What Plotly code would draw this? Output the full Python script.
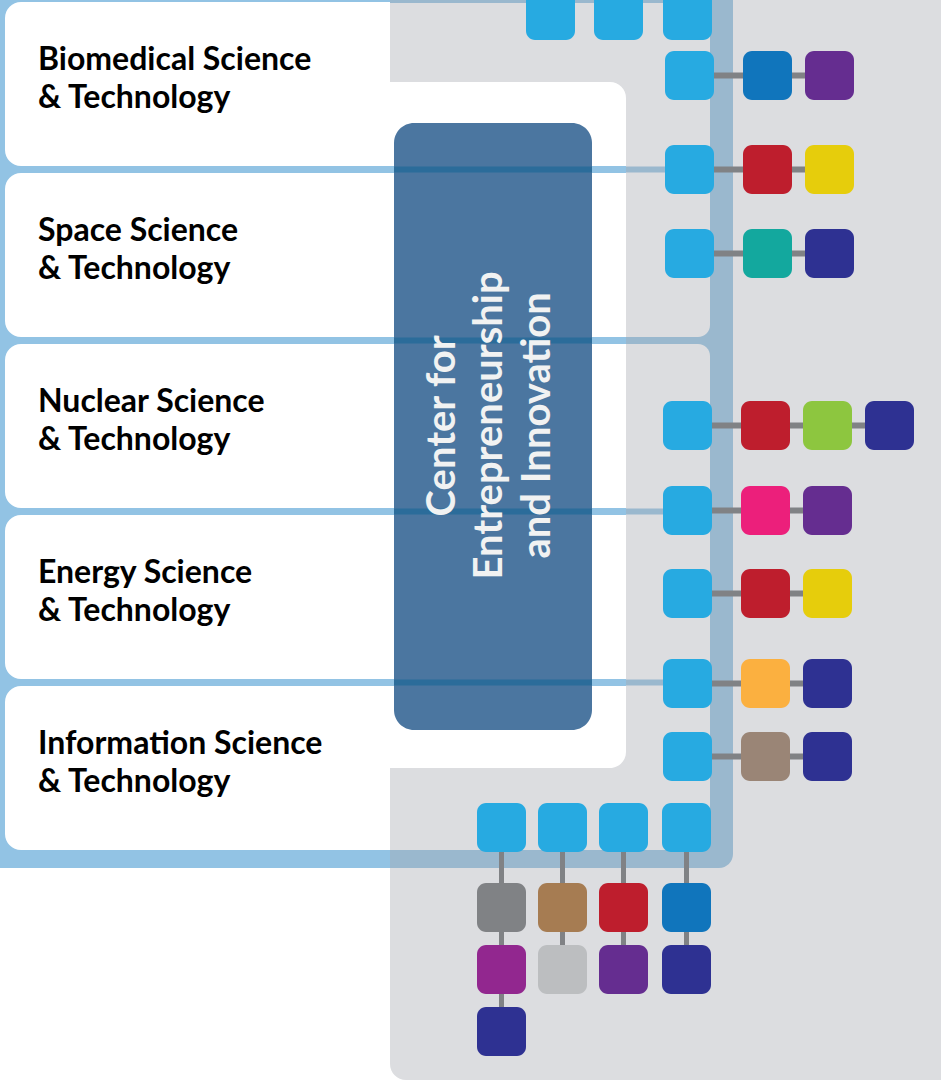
import plotly.graph_objects as go

# ---------------- data ----------------
SCHOOLS = ["Biomedical Science", "Space Science", "Nuclear Science",
           "Energy Science", "Information Science"]
SUFFIX = "& Technology"
CENTER_LINES = ["Center for", "Entrepreneurship", "and Innovation"]

# chains hanging off each cyan head node (colour names)
TOP_CHAINS = [[], [], []]
RIGHT_CHAINS = [
    ["blue", "purple"],
    ["red", "yellow"],
    ["teal", "navy"],
    ["red", "green", "navy"],
    ["pink", "purple"],
    ["red", "yellow"],
    ["orange", "navy"],
    ["taupe", "navy"],
]
BOTTOM_CHAINS = [
    ["gray", "magenta", "navy"],
    ["tan", "silver"],
    ["red", "purple"],
    ["blue", "navy"],
]

# ---------------- styles / layout ----------------
PALETTE = {
    "cyan": "#27aae1", "blue": "#1075bc", "purple": "#652d90",
    "red": "#be1e2d", "yellow": "#e6cd0c", "teal": "#13a89e",
    "navy": "#2e3192", "green": "#8dc63f", "pink": "#ec1f7b",
    "orange": "#fbb040", "taupe": "#9a8576", "gray": "#808285",
    "tan": "#a67c52", "silver": "#bcbec0", "magenta": "#92278f",
}
W, H = 941, 1081
FRAME_BLUE = "#92c3e4"
FRAME_ON_GRAY = "#9ab8ce"
PANEL_GRAY = "#dcdde0"
BOX_BLUE = "#4b76a0"
LINE_ON_BOX = "#2b6c9a"
CONNECT = "#808285"
NODE = 49
NODE_R = 9

CARD_TOPS = [2, 173, 344, 515, 686]
CARD_H = 164
GAP = 7

TOP_X = [526, 594, 663]
TOP_Y = -9
RIGHT_Y = [51, 145, 229, 401, 486, 569, 659, 732]
RIGHT_X = [665, 665, 665, 663, 663, 663, 663, 663]
RIGHT_FIRST = 78
STEP = 62
BOTTOM_X = [477, 538, 599, 662]
BOTTOM_Y = 803
BOTTOM_FIRST = 80


def rr(x0, y0, x1, y1, tl=0, tr=0, br=0, bl=0):
    k = 0.4477
    p = f"M{x0 + tl},{y0} L{x1 - tr},{y0} "
    if tr:
        p += f"C{x1 - tr * k},{y0} {x1},{y0 + tr * k} {x1},{y0 + tr} "
    p += f"L{x1},{y1 - br} "
    if br:
        p += f"C{x1},{y1 - br * k} {x1 - br * k},{y1} {x1 - br},{y1} "
    p += f"L{x0 + bl},{y1} "
    if bl:
        p += f"C{x0 + bl * k},{y1} {x0},{y1 - bl * k} {x0},{y1 - bl} "
    p += f"L{x0},{y0 + tl} "
    if tl:
        p += f"C{x0},{y0 + tl * k} {x0 + tl * k},{y0} {x0 + tl},{y0} "
    return p + "Z"


shapes = []


def add_path(p, color):
    shapes.append(dict(type="path", path=p, xref="x", yref="y",
                       fillcolor=color, line=dict(width=0), layer="above"))


def add_rect(x0, y0, x1, y1, color):
    shapes.append(dict(type="rect", x0=x0, y0=y0, x1=x1, y1=y1, xref="x",
                       yref="y", fillcolor=color, line=dict(width=0),
                       layer="above"))


# 1. blue frame base
add_path(rr(0, -10, 733, 868, br=14), FRAME_BLUE)
# 2. white cards
for t in CARD_TOPS:
    add_path(rr(5, t, 400, t + CARD_H, tl=16, bl=16), "#ffffff")
# 3. gray panel
add_path(rr(390, -10, 960, 1080, bl=16), PANEL_GRAY)
# 4. frame over gray
add_path(rr(390, -10, 733, 868, br=14), FRAME_ON_GRAY)
# 5. gray cells inside frame
mid_gap = CARD_TOPS[2] - GAP  # bottom of card 2
add_path(rr(390, 3, 710, mid_gap, br=12), PANEL_GRAY)
add_path(rr(390, CARD_TOPS[2], 710, 850, tr=12, br=10), PANEL_GRAY)
# 6. white region
add_path(rr(390, 82, 626, 768, tr=16, br=16), "#ffffff")
# 7. divider lines
gap_tops = [t + CARD_H for t in CARD_TOPS[:-1]]
for i, g in enumerate(gap_tops):
    add_rect(385, g, 626, g + GAP, FRAME_BLUE)
    if i != 1:
        add_rect(626, g + 0.5, 690, g + GAP - 0.5, FRAME_ON_GRAY)
# 8. centre box
add_path(rr(394, 123, 592, 730, 20, 20, 20, 20), BOX_BLUE)
for g in gap_tops:
    add_rect(394, g + 0.5, 592, g + GAP - 0.5, LINE_ON_BOX)


def node(x, y, cname):
    add_path(rr(x, y, x + NODE, y + NODE, NODE_R, NODE_R, NODE_R, NODE_R),
             PALETTE[cname])


# top heads
for x, chain in zip(TOP_X, TOP_CHAINS):
    node(x, TOP_Y, "cyan")

# right rows
for x, y, chain in zip(RIGHT_X, RIGHT_Y, RIGHT_CHAINS):
    xs = [x + RIGHT_FIRST + STEP * k for k in range(len(chain))]
    cy = y + NODE / 2
    add_rect(x + NODE / 2, cy - 3, xs[-1] + NODE / 2, cy + 3, CONNECT)
    node(x, y, "cyan")
    for xx, c in zip(xs, chain):
        node(xx, y, c)

# bottom columns
for x, chain in zip(BOTTOM_X, BOTTOM_CHAINS):
    ys = [BOTTOM_Y + BOTTOM_FIRST + STEP * k for k in range(len(chain))]
    cx = x + NODE / 2
    add_rect(cx - 2.5, BOTTOM_Y + NODE / 2, cx + 2.5, ys[-1] + NODE / 2, CONNECT)
    node(x, BOTTOM_Y, "cyan")
    for yy, c in zip(ys, chain):
        node(x, yy, c)

# ---------------- text ----------------
annotations = []
LABEL_FS = 32
for i, name in enumerate(SCHOOLS):
    b1 = 70 + 171 * i
    b2 = 108 + 171 * i
    for txt, b in ((name, b1), (SUFFIX, b2)):
        annotations.append(dict(
            x=36, y=b - 0.387 * LABEL_FS, xref="x", yref="y", text=txt,
            showarrow=False, xanchor="left", yanchor="middle",
            font=dict(family="Lato", size=LABEL_FS, color="#000000",
                      weight=700)))

CENTER_FS = 40
CENTER_BASELINES = [455, 502, 550]
for txt, bx in zip(CENTER_LINES, CENTER_BASELINES):
    annotations.append(dict(
        x=bx - 0.387 * CENTER_FS, y=426, xref="x", yref="y", text=txt,
        showarrow=False, xanchor="center", yanchor="middle", textangle=-90,
        font=dict(family="Lato", size=CENTER_FS, color="#f1f2f2",
                  weight=700)))

fig = go.Figure(go.Scatter(x=[], y=[], showlegend=False))
fig.update_layout(
    width=W, height=H, autosize=False,
    margin=dict(l=0, r=0, t=0, b=0, pad=0),
    paper_bgcolor="#ffffff", plot_bgcolor="#ffffff",
    xaxis=dict(range=[0, W], visible=False, fixedrange=True),
    yaxis=dict(range=[H, 0], visible=False, fixedrange=True),
    shapes=shapes, annotations=annotations, showlegend=False,
)
fig.write_html("out.html", config={"displayModeBar": False},
               post_script="document.body.style.margin='0';")
